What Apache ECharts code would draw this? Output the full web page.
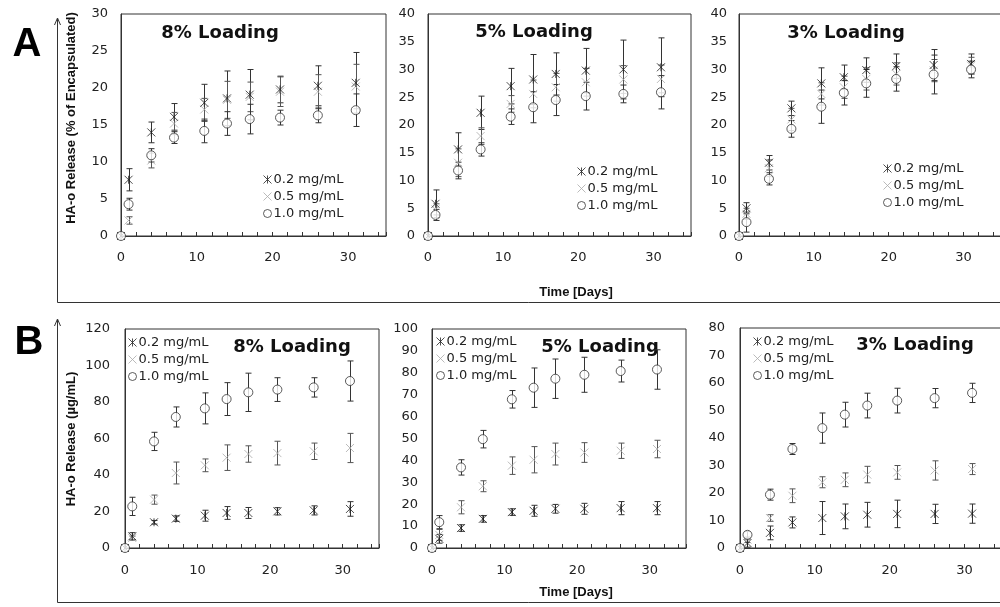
<!DOCTYPE html>
<html><head><meta charset="utf-8">
<script src="https://cdn.jsdelivr.net/npm/echarts@6/dist/echarts.min.js"></script>
<style>html,body{margin:0;padding:0;background:#fff}#c{width:1000px;height:607px}</style>
</head><body><div id="c"></div>
<script>
// ---------- data ----------
const days = [0, 1, 4, 7, 11, 14, 17, 21, 26, 31];
const seriesNames = ['0.2 mg/mL', '0.5 mg/mL', '1.0 mg/mL'];
const xTickLabels = ['0', '10', '20', '30'];
const panelTitles = ['8% Loading', '5% Loading', '3% Loading', '8% Loading', '5% Loading', '3% Loading'];
const yNameA = 'HA-o Release (% of Encapsulated)';
const yNameB = 'HA-o Release (µg/mL)';
const xName = 'Time [Days]';

// A: % of encapsulated
const a8_02 = [0, 7.6, 14.0, 16.1, 18.0, 18.6, 19.1, 19.8, 20.3, 20.7];
const a8_02e = [0, 1.5, 1.4, 1.8, 2.5, 3.7, 3.4, 1.8, 2.7, 4.1];
const a8_05 = [0, 2.1, 10.2, 15.2, 17.1, 18.4, 18.8, 19.5, 19.5, 20.2];
const a8_05e = [0, 0.5, 1.0, 1.5, 1.5, 2.5, 2.0, 2.0, 2.3, 3.0];
const a8_10 = [0, 4.3, 10.9, 13.3, 14.2, 15.2, 15.8, 16.0, 16.3, 17.0];
const a8_10e = [0, 0.8, 0.9, 0.8, 1.6, 1.6, 2.0, 1.0, 1.0, 2.2];

const a5_02 = [0, 5.8, 15.6, 22.2, 27.0, 28.2, 29.2, 29.8, 30.0, 30.4];
const a5_02e = [0, 2.5, 3.0, 3.0, 3.2, 4.5, 3.8, 4.0, 5.3, 5.3];
const a5_05 = [0, 4.8, 13.2, 18.0, 23.8, 25.6, 26.8, 27.7, 28.2, 28.3];
const a5_05e = [0, 1.0, 2.5, 1.5, 1.5, 2.5, 2.5, 2.5, 2.5, 2.5];
const a5_10 = [0, 3.8, 11.8, 15.6, 21.5, 23.2, 24.5, 25.2, 25.6, 25.9];
const a5_10e = [0, 1.0, 1.5, 1.2, 1.4, 2.8, 2.8, 2.5, 1.6, 3.0];

const a3_02 = [0, 5.0, 13.2, 23.0, 27.5, 28.6, 29.9, 30.6, 30.8, 31.0];
const a3_02e = [0, 1.0, 1.3, 1.3, 2.8, 2.2, 2.2, 2.2, 2.8, 1.8];
const a3_05 = [0, 4.0, 12.2, 21.0, 25.6, 26.8, 28.3, 29.2, 29.8, 30.7];
const a3_05e = [0, 1.0, 1.5, 2.0, 2.0, 2.0, 2.0, 2.0, 2.0, 1.5];
const a3_10 = [0, 2.5, 10.3, 19.3, 23.3, 25.8, 27.5, 28.3, 29.1, 30.0];
const a3_10e = [0, 1.8, 1.1, 1.5, 3.0, 2.2, 2.5, 2.2, 3.5, 1.5];

// B: µg/mL
const b8_02 = [0, 6.4, 14.1, 16.1, 17.7, 19.2, 19.2, 20.1, 20.6, 21.4];
const b8_02e = [0, 2.0, 1.0, 1.5, 3.0, 3.5, 3.0, 2.0, 2.5, 4.0];
const b8_05 = [0, 5.5, 26.5, 41.1, 45.3, 49.5, 51.5, 52.0, 53.0, 54.8];
const b8_05e = [0, 1.0, 2.5, 6.0, 3.5, 7.0, 4.5, 6.5, 4.5, 8.0];
const b8_10 = [0, 22.8, 58.4, 71.8, 76.5, 81.6, 85.3, 86.8, 88.0, 91.5];
const b8_10e = [0, 5.0, 5.0, 5.5, 8.5, 9.0, 10.5, 6.5, 5.3, 11.0];

const b5_02 = [0, 4.2, 9.1, 13.3, 16.4, 17.0, 17.9, 17.9, 18.2, 18.2];
const b5_02e = [0, 2.0, 1.5, 1.5, 1.5, 2.5, 2.0, 2.5, 3.0, 3.0];
const b5_05 = [0, 6.0, 18.6, 28.2, 37.6, 40.3, 42.9, 43.6, 44.4, 45.2];
const b5_05e = [0, 2.5, 3.0, 2.5, 4.0, 6.0, 5.0, 4.5, 3.5, 4.0];
const b5_10 = [0, 11.8, 36.8, 49.7, 67.9, 73.2, 77.3, 79.1, 80.8, 81.5];
const b5_10e = [0, 3.0, 3.5, 4.0, 4.0, 9.0, 9.0, 8.0, 5.0, 9.0];

const b3_02 = [0, 1.8, 5.5, 9.3, 10.9, 11.5, 12.1, 12.4, 12.4, 12.5];
const b3_02e = [0, 1.5, 2.5, 2.0, 6.0, 4.5, 4.5, 5.0, 3.5, 3.5];
const b3_05 = [0, 3.0, 10.9, 19.0, 23.9, 24.8, 26.7, 27.5, 28.2, 28.7];
const b3_05e = [0, 1.0, 1.2, 2.5, 2.0, 2.5, 3.0, 2.5, 3.5, 2.0];
const b3_10 = [0, 4.8, 19.4, 36.0, 43.6, 48.5, 51.8, 53.6, 54.5, 56.4];
const b3_10e = [0, 1.2, 2.0, 2.0, 5.5, 4.5, 4.5, 4.5, 3.5, 3.5];

const yMax = [30, 40, 40, 120, 100, 80];
const yInterval = [5, 5, 5, 20, 10, 10];

// ---------- layout / style ----------
const panels = [
  {grid: {left: 121, top: 14, width: 265, height: 222}, means: [a8_02, a8_05, a8_10], errs: [a8_02e, a8_05e, a8_10e], tx: 220, ty: 33, lg: {left: 263, top: 173}, ym: 13, xm: 15},
  {grid: {left: 428, top: 14, width: 263, height: 222}, means: [a5_02, a5_05, a5_10], errs: [a5_02e, a5_05e, a5_10e], tx: 534, ty: 32, lg: {left: 577, top: 165}, ym: 13, xm: 15},
  {grid: {left: 739, top: 14, width: 262, height: 222}, means: [a3_02, a3_05, a3_10], errs: [a3_02e, a3_05e, a3_10e], tx: 846, ty: 33, lg: {left: 883, top: 162}, ym: 12, xm: 15},
  {grid: {left: 125, top: 329, width: 254, height: 219}, means: [b8_02, b8_05, b8_10], errs: [b8_02e, b8_05e, b8_10e], tx: 292, ty: 347, lg: {left: 128, top: 336}, ym: 15, xm: 16},
  {grid: {left: 432, top: 329, width: 254, height: 219}, means: [b5_02, b5_05, b5_10], errs: [b5_02e, b5_05e, b5_10e], tx: 600, ty: 347, lg: {left: 436, top: 335}, ym: 14, xm: 16},
  {grid: {left: 740, top: 328, width: 262, height: 220}, means: [b3_02, b3_05, b3_10], errs: [b3_02e, b3_05e, b3_10e], tx: 915, ty: 345, lg: {left: 753, top: 335}, ym: 15, xm: 16}
];

const FONT = '"DejaVu Sans", sans-serif';
const AX = '#333';
const markerStyles = [
  {symbol: 'path://M0,0L10,10M0,10L10,0M5,0L5,10', size: 8, itemStyle: {color: 'rgba(0,0,0,0)', borderColor: '#222', borderWidth: 1}, bar: '#333'},
  {symbol: 'path://M0,0L10,10M0,10L10,0', size: 8, itemStyle: {color: 'rgba(0,0,0,0)', borderColor: '#aaa', borderWidth: 1}, bar: '#555'},
  {symbol: 'circle', size: 9, itemStyle: {color: '#fff', borderColor: '#333', borderWidth: 1}, bar: '#333'}
];

const grids = [], xAxes = [], yAxes = [], series = [], legends = [], titles = [];
panels.forEach((p, i) => {
  grids.push(Object.assign({show: true, borderColor: AX, borderWidth: 1, containLabel: false, outerBoundsMode: 'none'}, p.grid));
  xAxes.push({
    gridIndex: i, type: 'value', min: 0, max: 35, interval: 2,
    axisLine: {show: true, onZero: false, lineStyle: {color: AX}},
    axisTick: {show: true, inside: true, length: 4, lineStyle: {color: AX}},
    axisLabel: {margin: p.xm, fontFamily: FONT, fontSize: 13, color: '#222',
      formatter: v => (v % 10 === 0 && v <= 30) ? xTickLabels[v / 10] : ''},
    splitLine: {show: false}
  });
  yAxes.push({
    gridIndex: i, type: 'value', min: 0, max: yMax[i], interval: yInterval[i],
    axisLine: {show: true, lineStyle: {color: AX}},
    axisTick: {show: false},
    axisLabel: {margin: p.ym, fontFamily: FONT, fontSize: 13, color: '#222'},
    splitLine: {show: false}
  });
  // error bars
  p.means.forEach((m, k) => {
    const col = markerStyles[k].bar;
    series.push({
      type: 'custom', xAxisIndex: i, yAxisIndex: i, silent: true, z: 2, clip: false,
      data: days.map((d, j) => [d, m[j], p.errs[k][j]]),
      renderItem: (params, api) => {
        const x = api.value(0), y = api.value(1), e = api.value(2);
        if (!e) return null;
        const t = api.coord([x, y + e]), b = api.coord([x, y - e]);
        const cx = Math.round(t[0]) + 0.5;
        const st = {stroke: col, lineWidth: 1};
        return {type: 'group', children: [
          {type: 'line', shape: {x1: cx, y1: t[1], x2: cx, y2: b[1]}, style: st},
          {type: 'line', shape: {x1: cx - 3, y1: t[1], x2: cx + 3, y2: t[1]}, style: st},
          {type: 'line', shape: {x1: cx - 3, y1: b[1], x2: cx + 3, y2: b[1]}, style: st}
        ]};
      }
    });
  });
  // markers (0.5 first, then 0.2, then 1.0 on top)
  [1, 0, 2].forEach(k => {
    const ms = markerStyles[k];
    series.push({
      type: 'scatter', name: seriesNames[k], xAxisIndex: i, yAxisIndex: i, clip: false, z: 3,
      symbol: ms.symbol, symbolSize: ms.size, itemStyle: ms.itemStyle,
      emphasis: {disabled: true},
      data: days.map((d, j) => [d, p.means[k][j]])
    });
  });
  legends.push({
    data: seriesNames.slice(), orient: 'vertical', left: p.lg.left, top: p.lg.top,
    padding: 0, itemWidth: 8, itemHeight: 8, itemGap: 4, selectedMode: false,
    itemStyle: {borderWidth: 1},
    textStyle: {fontFamily: FONT, fontSize: 13, color: '#222', lineHeight: 13, padding: [0, 0, 0, -3]}
  });
  titles.push({
    type: 'text', x: p.tx, y: p.ty,
    style: {text: panelTitles[i], font: 'bold 18px ' + FONT, fill: '#111', align: 'center', verticalAlign: 'middle'}
  });
});

const lineSt = {stroke: AX, lineWidth: 1, fill: null};
const graphics = titles.concat([
  {type: 'text', x: 27, y: 45, style: {text: 'A', font: 'bold 40px "Liberation Sans", Arial, sans-serif', fill: '#000', align: 'center', verticalAlign: 'middle'}},
  {type: 'text', x: 29, y: 343, style: {text: 'B', font: 'bold 40px "Liberation Sans", Arial, sans-serif', fill: '#000', align: 'center', verticalAlign: 'middle'}},
  {type: 'text', x: 71, y: 118, rotation: Math.PI / 2, style: {text: yNameA, font: 'bold 13px "Liberation Sans", Arial, sans-serif', fill: '#111', align: 'center', verticalAlign: 'middle'}},
  {type: 'text', x: 71, y: 439, rotation: Math.PI / 2, style: {text: yNameB, font: 'bold 13px "Liberation Sans", Arial, sans-serif', fill: '#111', align: 'center', verticalAlign: 'middle'}},
  {type: 'text', x: 576, y: 292, style: {text: xName, font: 'bold 13px "Liberation Sans", Arial, sans-serif', fill: '#111', align: 'center', verticalAlign: 'middle'}},
  {type: 'text', x: 576, y: 592, style: {text: xName, font: 'bold 13px "Liberation Sans", Arial, sans-serif', fill: '#111', align: 'center', verticalAlign: 'middle'}},
  {type: 'polyline', shape: {points: [[57.5, 19], [57.5, 302.5], [1000, 302.5]]}, style: lineSt},
  {type: 'polyline', shape: {points: [[54.5, 25], [57.5, 18], [60.5, 25]]}, style: lineSt},
  {type: 'polyline', shape: {points: [[57.5, 320], [57.5, 602.5], [1000, 602.5]]}, style: lineSt},
  {type: 'polyline', shape: {points: [[54.5, 326], [57.5, 319], [60.5, 326]]}, style: lineSt}
]);

const chart = echarts.init(document.getElementById('c'), null, {renderer: 'canvas'});
chart.setOption({
  backgroundColor: '#fff',
  animation: false,
  grid: grids, xAxis: xAxes, yAxis: yAxes,
  legend: legends,
  series: series,
  graphic: {elements: graphics}
});
</script></body></html>
